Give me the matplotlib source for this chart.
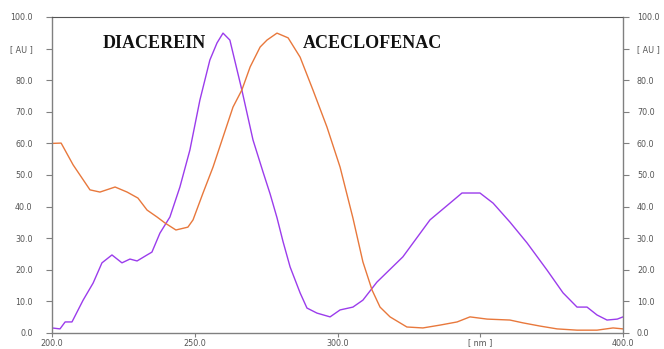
import matplotlib
matplotlib.use("Agg")
import matplotlib.pyplot as plt

# Diacerein (purple) spectrum: wavelength [nm], absorbance [AU]
dia_nm = [200.0, 202.8, 204.6, 207.0, 210.9, 214.4, 217.5, 221.0, 224.5, 227.3,
          229.8, 233.3, 235.0, 237.8, 241.3, 244.8, 248.3, 251.8, 255.3, 257.8,
          259.9, 262.3, 266.5, 270.4, 273.9, 276.4, 278.8, 280.9, 283.4, 286.9,
          289.3, 292.8, 297.4, 300.9, 305.4, 308.9, 313.8, 322.9, 332.4, 339.4,
          343.6, 349.9, 354.5, 360.4, 366.4, 373.4, 379.0, 383.9, 387.4, 390.9,
          394.4, 398.0, 400.0]
dia_au = [1.6, 1.3, 3.5, 3.5, 10.4, 15.8, 22.2, 24.7, 22.2, 23.4,
          22.8, 24.7, 25.6, 31.6, 36.7, 46.2, 57.9, 73.7, 86.4, 91.8,
          94.9, 92.7, 76.9, 61.1, 51.0, 44.0, 36.5, 29.0, 20.9, 12.7,
          7.9, 6.3, 5.1, 7.3, 8.2, 10.4, 16.1, 24.1, 35.8, 41.1,
          44.3, 44.3, 41.1, 35.1, 28.5, 19.9, 12.7, 8.2, 8.2, 5.7,
          4.1, 4.4, 5.1]

# Aceclofenac (orange) spectrum
ace_nm = [200.0, 203.2, 207.4, 213.3, 216.8, 222.1, 226.3, 230.1, 233.3, 236.8,
          239.6, 243.4, 247.6, 249.4, 252.9, 256.4, 259.9, 263.4, 266.5, 269.4,
          272.9, 275.3, 278.8, 282.7, 286.9, 291.4, 296.3, 300.9, 305.4, 308.9,
          312.1, 314.9, 318.4, 324.3, 329.9, 335.9, 341.9, 346.4, 352.4, 360.4,
          365.0, 370.9, 376.9, 383.9, 390.9, 396.5, 400.0]
ace_au = [60.0, 60.1, 53.2, 45.3, 44.6, 46.2, 44.6, 42.7, 38.9, 36.7,
          34.8, 32.6, 33.5, 35.8, 44.3, 52.5, 62.0, 71.5, 76.9, 84.2,
          90.5, 92.7, 94.9, 93.4, 87.3, 76.9, 65.2, 52.5, 36.4, 22.5,
          13.6, 8.2, 5.1, 1.9, 1.6, 2.5, 3.5, 5.1, 4.4, 4.1,
          3.2, 2.2, 1.3, 0.9, 0.9, 1.6, 1.3]

x_ticks = [200, 250, 300, 350, 400]
x_labels = ["200.0", "250.0", "300.0", "[ nm ]", "400.0"]
y_ticks = [0, 10, 20, 30, 40, 50, 60, 70, 80, 90, 100]
y_labels = ["0.0", "10.0", "20.0", "30.0", "40.0", "50.0", "60.0", "70.0", "80.0", "[ AU ]", "100.0"]

fig = plt.figure(figsize=(6.64, 3.49), dpi=100)
ax = fig.add_axes([52 / 664, 1 - 333 / 349, (623 - 52) / 664, (333 - 17) / 349])

ax.plot(dia_nm, dia_au, color="#9b3cec", lw=1.0)
ax.plot(ace_nm, ace_au, color="#e8783c", lw=1.0)

ax.set_xlim(200, 400)
ax.set_ylim(0, 100)

spine_col = "#808080"
for s in ax.spines.values():
    s.set_color(spine_col)
    s.set_linewidth(1.0)
ax.spines["top"].set_color("#555555")
ax.spines["top"].set_linewidth(0.8)

ax.set_xticks(x_ticks)
ax.set_xticklabels(x_labels)
ax.set_yticks(y_ticks)
ax.set_yticklabels(y_labels)
ax.tick_params(axis="both", which="both", direction="out", length=4, width=0.8,
               color=spine_col, labelsize=5.8, labelcolor="#555555")
ax.tick_params(axis="y", left=True, right=False, pad=10)
ax.tick_params(axis="x", length=3, pad=1)

# right-hand axis mirrors the left one
axr = ax.twinx()
axr.set_ylim(ax.get_ylim())
axr.set_yticks(y_ticks)
axr.set_yticklabels(y_labels)
axr.tick_params(axis="y", direction="out", length=4, width=0.8, color=spine_col,
                labelsize=5.8, labelcolor="#555555", pad=6)
for s in axr.spines.values():
    s.set_visible(False)

ax.text(0.089, 0.915, "DIACEREIN", transform=ax.transAxes, family="Liberation Serif",
        fontweight="bold", fontsize=13, color="#111111", va="center", ha="left")
ax.text(0.440, 0.915, "ACECLOFENAC", transform=ax.transAxes, family="Liberation Serif",
        fontweight="bold", fontsize=13, color="#111111", va="center", ha="left")

fig.savefig("out.png", dpi=100, facecolor="white")
